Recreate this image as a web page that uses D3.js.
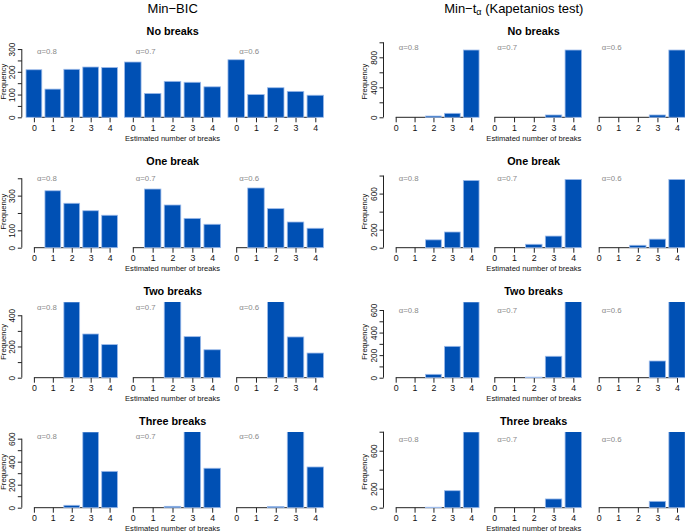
<!DOCTYPE html>
<html>
<head>
<meta charset="utf-8">
<script src="https://cdn.jsdelivr.net/npm/d3@7"></script>
<style>
  html, body { margin: 0; padding: 0; background: #fff; }
  svg { display: block; font-family: "Liberation Sans", Arial, Helvetica, sans-serif; }
</style>
</head>
<body>
<div id="chart"></div>
<script>
// ---------- DATA ----------
const categories = ["0", "1", "2", "3", "4"];
const alphas = ["0.8", "0.7", "0.6"];
const scenarios = ["No breaks", "One break", "Two breaks", "Three breaks"];
const methods = ["Min−BIC", "Min−tα (Kapetanios test)"];

// Min-BIC frequencies, one row per alpha (0.8, 0.7, 0.6)
const bicNoBreaks    = [[209, 124, 211, 221, 219], [243, 105, 158, 154, 134], [253, 100, 130, 114, 97]];
const bicOneBreak    = [[0, 328, 256, 213, 187], [0, 338, 246, 169, 135], [0, 344, 225, 148, 112]];
const bicTwoBreaks   = [[0, 0, 485, 280, 212], [0, 0, 540, 263, 179], [0, 0, 560, 261, 158]];
const bicThreeBreaks = [[0, 0, 21, 658, 316], [0, 0, 12, 664, 343], [0, 0, 10, 668, 354]];

// Min-t_alpha (Kapetanios test) frequencies
const kapNoBreaks    = [[0, 0, 17, 53, 897], [0, 0, 0, 31, 897], [0, 0, 0, 31, 897]];
const kapOneBreak    = [[0, 0, 87, 174, 746], [0, 0, 38, 129, 757], [0, 0, 27, 95, 757]];
const kapTwoBreaks   = [[0, 0, 30, 278, 671], [0, 0, 5, 190, 790], [0, 0, 0, 148, 835]];
const kapThreeBreaks = [[0, 0, 5, 179, 797], [0, 0, 0, 92, 890], [0, 0, 0, 67, 915]];

// y-axis limits (upper) for each scenario
const bicYMax = [331, 439, 485, 658];
const kapYMax = [1004, 845, 671, 797];

// y-axis tick values and which are labelled
const bicTicks  = [[0, 50, 100, 150, 200, 250, 300], [0, 100, 200, 300, 400], [0, 100, 200, 300, 400], [0, 100, 200, 300, 400, 500, 600]];
const bicLabels = [[0, 100, 200, 300], [0, 100, 300], [0, 200, 400], [0, 200, 400, 600]];
const kapTicks  = [[0, 200, 400, 600, 800, 1000], [0, 200, 400, 600, 800], [0, 100, 200, 300, 400, 500, 600], [0, 200, 400, 600, 800]];
const kapLabels = [[0, 400, 800], [0, 200, 600], [0, 200, 400, 600], [0, 200, 600]];

// ---------- LAYOUT ----------
const W = 685, H = 532;
const FONT = '"Liberation Sans", Arial, Helvetica, sans-serif';
const BAR_FILL = "#0050b4";
const BAR_EDGE = "#9dbbea";

const rowZero  = [117.3, 247.7, 377.7, 507.7];
const rowTop   = [42, 171.5, 302, 432];
const rowTitle = [35, 165, 295, 425.3];

const columns = [
  {
    data: [bicNoBreaks, bicOneBreak, bicTwoBreaks, bicThreeBreaks],
    yMax: bicYMax, ticks: bicTicks, labels: bicLabels,
    panels: [[33.9, 109.6], [132.8, 212.2], [236.2, 315.3]],
    axisX: 21.8, freqX: 3.6, titleX: 172.7, headX: 172.7,
    alphaY: [51, 178.3, 307.7, 436]
  },
  {
    data: [kapNoBreaks, kapOneBreak, kapTwoBreaks, kapThreeBreaks],
    yMax: kapYMax, ticks: kapTicks, labels: kapLabels,
    panels: [[395.7, 471.2], [494.3, 573.3], [598.7, 677]],
    axisX: 383.5, freqX: 364.3, titleX: 533.6, headX: 513.8,
    alphaY: [47.3, 178.3, 310, 439]
  }
];

const svg = d3.select("#chart").append("svg")
  .attr("width", W).attr("height", H)
  .attr("viewBox", `0 0 ${W} ${H}`);

svg.append("rect").attr("width", W).attr("height", H).attr("fill", "#fff");

const defs = svg.append("defs");

// Column headings
svg.append("text")
  .attr("x", columns[0].headX).attr("y", 12.7)
  .attr("text-anchor", "middle").attr("font-size", 13).attr("fill", "#000")
  .text(methods[0]);

const h2 = svg.append("text")
  .attr("x", columns[1].headX).attr("y", 12.7)
  .attr("text-anchor", "middle").attr("font-size", 13).attr("fill", "#000");
h2.append("tspan").text("Min−t");
h2.append("tspan").attr("font-size", 9).attr("dy", 2.5).text("α");
h2.append("tspan").attr("dy", -2.5).text(" (Kapetanios test)");

columns.forEach((col, ci) => {
  scenarios.forEach((scen, ri) => {
    const zeroY = rowZero[ri], topY = rowTop[ri];
    const y = d3.scaleLinear().domain([0, col.yMax[ri]]).range([zeroY, topY]);
    const g = svg.append("g");

    // scenario title
    g.append("text")
      .attr("x", col.titleX).attr("y", rowTitle[ri])
      .attr("text-anchor", "middle").attr("font-size", 10.8).attr("font-weight", "bold")
      .attr("fill", "#000").text(scen);

    // y axis (first panel only)
    const labelSet = new Set(col.labels[ri]);
    const yAxis = d3.axisLeft(y)
      .tickValues(col.ticks[ri])
      .tickSize(4)
      .tickSizeOuter(0)
      .tickFormat(d => labelSet.has(d) ? String(d) : "");
    const ya = g.append("g").attr("transform", `translate(${col.axisX},0)`).call(yAxis);
    ya.select(".domain").attr("stroke", "#222").attr("stroke-width", 1)
      .attr("d", `M0,${y(0)}V${y(d3.max(col.ticks[ri]))}`);
    ya.selectAll(".tick line").attr("stroke", "#222");
    ya.selectAll(".tick text")
      .attr("transform", "rotate(-90)")
      .attr("x", 0).attr("y", -7).attr("dy", null)
      .attr("text-anchor", "middle")
      .attr("font-size", 8.2).attr("font-family", FONT).attr("fill", "#111");

    g.append("text")
      .attr("transform", `translate(${col.freqX},${(zeroY + topY) / 2 + 2}) rotate(-90)`)
      .attr("text-anchor", "middle").attr("dominant-baseline", "central")
      .attr("font-size", 7.6).attr("fill", "#111").text("Frequency");

    // clip for bars
    const clipId = `clip-${ci}-${ri}`;
    defs.append("clipPath").attr("id", clipId)
      .append("rect").attr("x", 0).attr("y", topY).attr("width", W).attr("height", zeroY - topY + 3);

    alphas.forEach((a, pi) => {
      const [c0, c4] = col.panels[pi];
      const x = d3.scalePoint().domain(categories).range([c0, c4]);
      const bw = x.step() / 1.2;
      const values = col.data[ri][pi];

      // x axis
      const xAxis = d3.axisBottom(x).tickSize(5).tickSizeOuter(0).tickPadding(3);
      const xa = g.append("g").attr("transform", `translate(0,${zeroY})`).call(xAxis);
      xa.select(".domain").attr("stroke", "#222").attr("d", `M${c0},0H${c4}`);
      xa.selectAll(".tick line").attr("stroke", "#222");
      xa.selectAll(".tick text")
        .attr("y", 13.5).attr("dy", null)
        .attr("font-size", 8.8).attr("font-family", FONT).attr("fill", "#111");

      // bars
      g.append("g").attr("clip-path", `url(#${clipId})`)
        .selectAll("rect")
        .data(values.map((v, i) => ({ cat: categories[i], v })).filter(d => d.v > 0))
        .join("rect")
        .attr("x", d => x(d.cat) - bw / 2)
        .attr("width", bw)
        .attr("y", d => y(d.v))
        .attr("height", d => y(0) - y(d.v))
        .attr("fill", BAR_FILL)
        .attr("stroke", BAR_EDGE)
        .attr("stroke-width", 0.8);

      // alpha label
      g.append("text")
        .attr("x", c0 + 3).attr("y", col.alphaY[ri])
        .attr("dominant-baseline", "central")
        .attr("font-size", 7.8).attr("fill", "#8a8a8a")
        .text("α=" + a);
    });

    // x axis title under middle panel
    const mid = col.panels[1];
    g.append("text")
      .attr("x", (mid[0] + mid[1]) / 2).attr("y", zeroY + 23.5)
      .attr("text-anchor", "middle").attr("font-size", 7.6).attr("fill", "#111")
      .text("Estimated number of breaks");
  });
});
</script>
</body>
</html>
